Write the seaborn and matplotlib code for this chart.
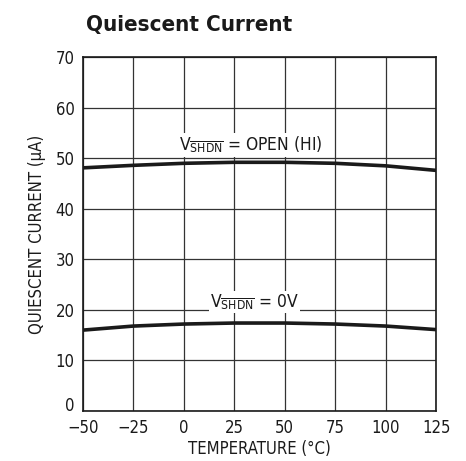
import matplotlib
matplotlib.use('Agg')
import matplotlib.pyplot as plt
import seaborn as sns
import pandas as pd

temp = [-50, -25, 0, 25, 50, 75, 100, 125]
i_open = [48.1, 48.6, 49.0, 49.2, 49.2, 49.0, 48.5, 47.6]
i_0v = [16.0, 16.8, 17.2, 17.4, 17.4, 17.2, 16.8, 16.1]

df = pd.DataFrame({'temp': temp + temp,
                   'current': i_open + i_0v,
                   'mode': ['open'] * len(temp) + ['0v'] * len(temp)})

sns.set_style('white')
plt.rcParams['font.family'] = ['DejaVu Sans']
plt.rcParams['font.stretch'] = 'condensed'
plt.rcParams['mathtext.fontset'] = 'custom'
plt.rcParams['mathtext.rm'] = 'DejaVu Sans:stretch=condensed'

fig = plt.figure(figsize=(4.66, 4.61), dpi=100)
ax = fig.add_axes([0.178, 0.1085, 0.758, 0.7675])

sns.lineplot(data=df, x='temp', y='current', units='mode', estimator=None,
             color='#1a1a1a', lw=2.6, ax=ax)

ax.set_xlim(-50, 125)
ax.set_ylim(0, 70)
ax.set_xticks(range(-50, 126, 25))
ax.set_xticklabels(['\u221250', '\u221225', '0', '25', '50', '75', '100', '125'])
ax.set_yticks(range(0, 71, 10))
ax.grid(True, color='#333333', lw=0.9)
ax.tick_params(length=0, labelsize=12, colors='#1a1a1a')
ax.tick_params(axis='x', pad=6)
ax.tick_params(axis='y', pad=6)
for s in ax.spines.values():
    s.set_color('#1a1a1a')
    s.set_linewidth(1.2)
# sit the "0" on the baseline so it clears the -50 below it
ax.get_yticklabels()[0].set_va('baseline')

ax.set_xlabel('TEMPERATURE (°C)', fontsize=12, color='#1a1a1a', labelpad=2)
ax.set_ylabel('QUIESCENT CURRENT (µA)', fontsize=12, color='#1a1a1a', labelpad=7)

box = dict(facecolor='white', edgecolor='none', pad=1)
ax.text(33, 52.6, r'$\mathrm{V}_{\overline{\mathrm{SHDN}}}$ = OPEN (HI)',
        ha='center', va='center', fontsize=12.5, color='#1a1a1a', bbox=box)
ax.text(35, 21.6, r'$\mathrm{V}_{\overline{\mathrm{SHDN}}}$ = 0V',
        ha='center', va='center', fontsize=12.5, color='#1a1a1a', bbox=box)

fig.text(0.185, 0.945, 'Quiescent Current', fontsize=16, fontweight='bold',
         color='#1a1a1a', ha='left', va='center')

fig.savefig('out.png', dpi=100)
